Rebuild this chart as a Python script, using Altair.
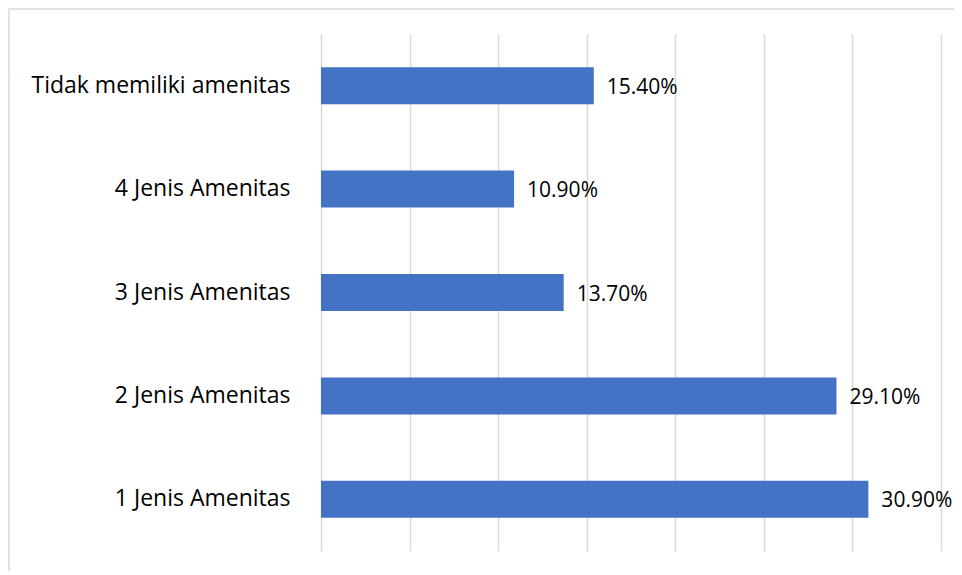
import altair as alt
import pandas as pd

categories = ["Tidak memiliki amenitas", "4 Jenis Amenitas", "3 Jenis Amenitas",
              "2 Jenis Amenitas", "1 Jenis Amenitas"]
values = [0.154, 0.109, 0.137, 0.291, 0.309]
x_ticks = [0, 0.05, 0.10, 0.15, 0.20, 0.25, 0.30, 0.35]

df = pd.DataFrame({"category": categories, "value": values})

FONT = "Open Sans"

y_enc = alt.Y("category:N", sort=categories, title=None,
              scale=alt.Scale(paddingInner=0.642, paddingOuter=0.321),
              axis=alt.Axis(domain=False, ticks=False, grid=False,
                            labelFont=FONT, labelFontSize=23, labelColor="black",
                            labelPadding=31, labelLimit=400))
x_enc = alt.X("value:Q", title=None,
              scale=alt.Scale(domain=[0, 0.35], nice=False, zero=True),
              axis=alt.Axis(values=x_ticks, labels=False, ticks=False, domain=False,
                            grid=True, gridColor="#d9d9d9", gridWidth=1.5))

base = alt.Chart(df)

bars = base.mark_bar(color="#4472C4").encode(x=x_enc, y=y_enc)
text = base.mark_text(align="left", baseline="middle", dx=13, dy=2,
                      font=FONT, fontSize=21, color="black").encode(
    x=x_enc, y=y_enc, text=alt.Text("value:Q", format=".2%"))

border = alt.Chart(pd.DataFrame({"k": [0]})).mark_rect(
    fill="transparent", stroke="#d9d9d9", strokeWidth=1.5).encode(
    x=alt.value(-312), x2=alt.value(700), y=alt.value(-25), y2=alt.value(700))

chart = alt.layer(border, bars, text).properties(
    width=620, height=517,
    autosize=alt.AutoSizeParams(type="none"),
    padding={"left": 313, "top": 26, "right": 13, "bottom": 20},
).configure_view(stroke=None)

chart.save("out.html", embed_options={"renderer": "svg", "actions": False})
